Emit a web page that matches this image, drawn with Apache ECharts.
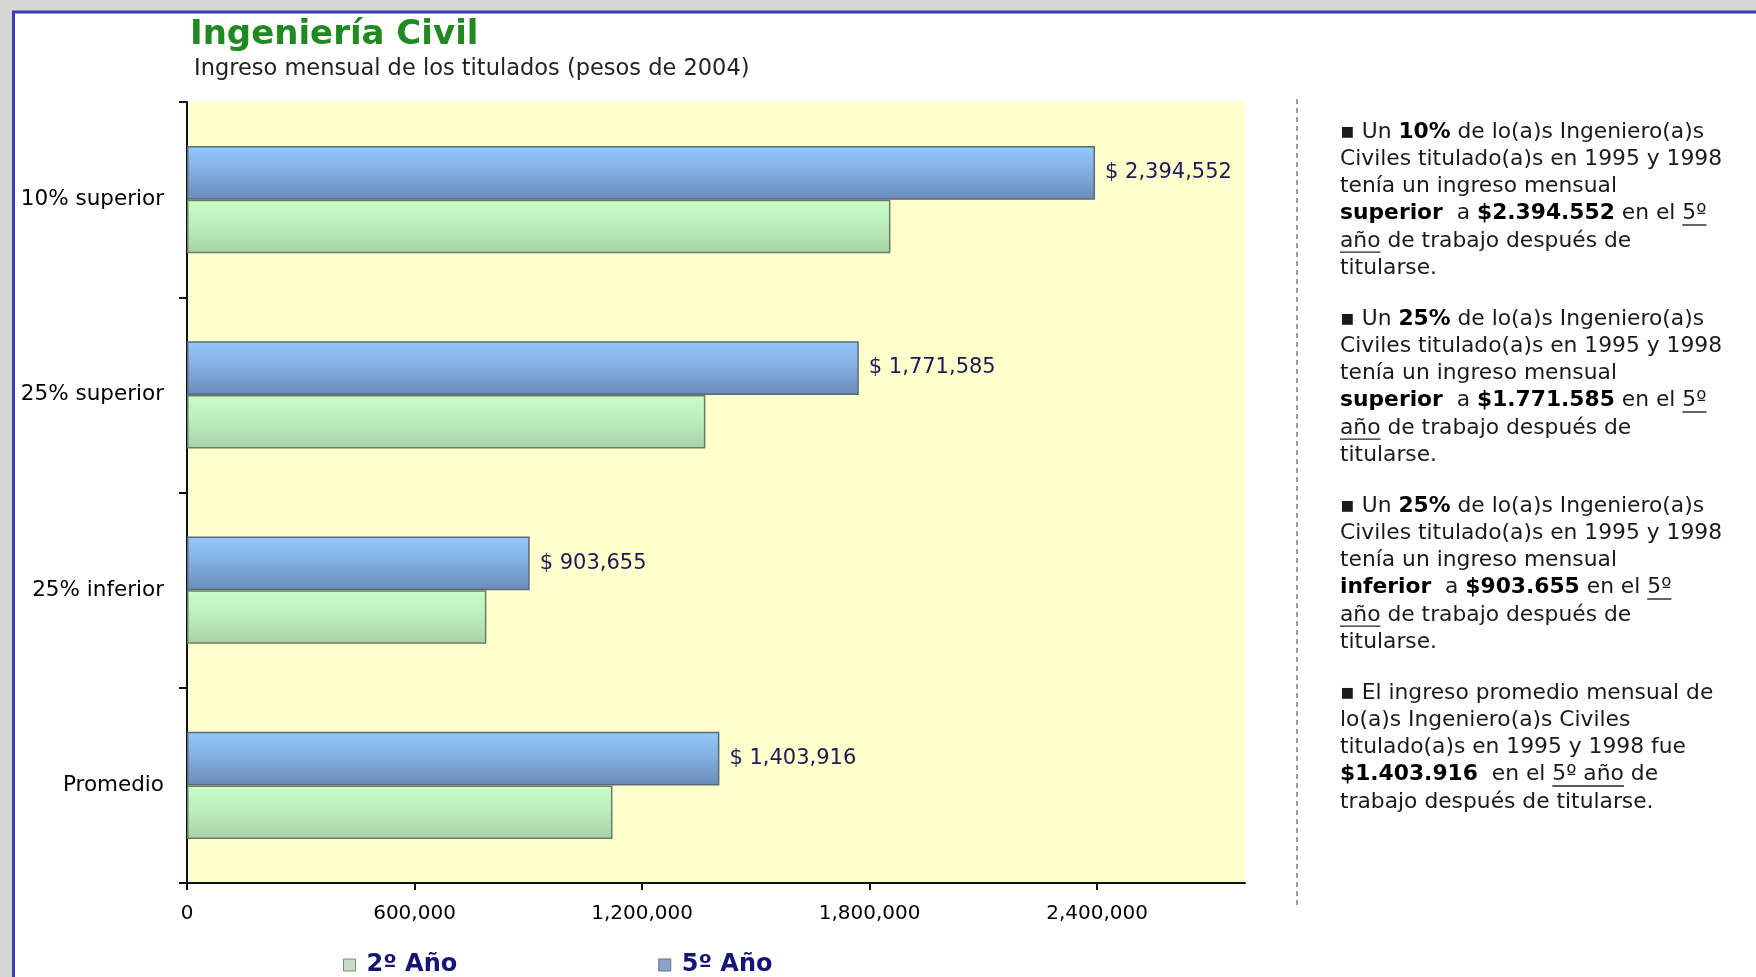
<!DOCTYPE html>
<html><head><meta charset="utf-8">
<script src="https://cdn.jsdelivr.net/npm/echarts@6/dist/echarts.min.js"></script>
<style>html,body{margin:0;padding:0;background:#d6d6d6}#c{width:1756px;height:977px}</style>
</head><body><div id="c"></div><script>
// ---------- DATA ----------
const categories = ['10% superior', '25% superior', '25% inferior', 'Promedio'];
const year2Values = [1855000, 1367000, 789500, 1122000];
const year5Values = [2394552, 1771585, 903655, 1403916];
const xTickValues = [0, 600000, 1200000, 1800000, 2400000];
const seriesNames = ['2º Año', '5º Año'];
const chartTitle = 'Ingeniería Civil';
const chartSubtitle = 'Ingreso mensual de los titulados (pesos de 2004)';
// *bold*  _underline_
const note1 = ['▪ Un *10%* de lo(a)s Ingeniero(a)s', 'Civiles titulado(a)s en 1995 y 1998', 'tenía un ingreso mensual', '*superior*  a *$2.394.552* en el _5º_', '_año_ de trabajo después de', 'titularse.'];
const note2 = ['▪ Un *25%* de lo(a)s Ingeniero(a)s', 'Civiles titulado(a)s en 1995 y 1998', 'tenía un ingreso mensual', '*superior*  a *$1.771.585* en el _5º_', '_año_ de trabajo después de', 'titularse.'];
const note3 = ['▪ Un *25%* de lo(a)s Ingeniero(a)s', 'Civiles titulado(a)s en 1995 y 1998', 'tenía un ingreso mensual', '*inferior*  a *$903.655* en el _5º_', '_año_ de trabajo después de', 'titularse.'];
const note4 = ['▪ El ingreso promedio mensual de', 'lo(a)s Ingeniero(a)s Civiles', 'titulado(a)s en 1995 y 1998 fue', '*$1.403.916*  en el _5º año_ de', 'trabajo después de titularse.'];
const notes = [note1, note2, note3, note4];

// ---------- RENDER ----------
const FONT = '"DejaVu Sans", Verdana, sans-serif';
const chart = echarts.init(document.getElementById('c'), null, {renderer: 'canvas'});

const gradBlue = new echarts.graphic.LinearGradient(0, 0, 0, 1, [
  {offset: 0, color: '#94c8fb'}, {offset: 0.45, color: '#84b0e3'}, {offset: 1, color: '#6a8bb9'}]);
const gradGreen = new echarts.graphic.LinearGradient(0, 0, 0, 1, [
  {offset: 0, color: '#cafdca'}, {offset: 0.45, color: '#bdeebd'}, {offset: 1, color: '#a7d3a7'}]);

// text panel
const NOTE_X = 1340, NOTE_Y0 = 132.5, LINE_H = 27.1, PARA_H = 187, NOTE_FS = 21.8;
const mctx = document.createElement('canvas').getContext('2d');
function measure(txt, bold) {
  mctx.font = (bold ? 'bold ' : 'normal ') + NOTE_FS + 'px ' + FONT;
  return mctx.measureText(txt).width;
}
function parseLine(line) {
  const segs = [];
  const re = /(\*[^*]+\*|_[^_]+_|[^*_]+)/g;
  let m;
  while ((m = re.exec(line)) !== null) {
    const s = m[0];
    if (s[0] === '*') segs.push({t: s.slice(1, -1), b: true, u: false});
    else if (s[0] === '_') segs.push({t: s.slice(1, -1), b: false, u: true});
    else segs.push({t: s, b: false, u: false});
  }
  return segs;
}
const graphics = [
  {type: 'rect', z: -20, shape: {x: 13.5, y: 12, width: 1800, height: 1000},
   style: {fill: '#ffffff', stroke: '#3b3bb5', lineWidth: 3}},
  {type: 'line', z: 5, shape: {x1: 1297, y1: 99, x2: 1297, y2: 909},
   style: {stroke: '#7f7f7f', lineWidth: 1.5, lineDash: [5, 4]}}
];
notes.forEach((para, pi) => {
  para.forEach((line, li) => {
    const y = NOTE_Y0 + pi * PARA_H + li * LINE_H;
    const segs = parseLine(line);
    let rich = '';
    let xoff = 0;
    segs.forEach(sg => {
      rich += '{' + (sg.b ? 'b' : 'n') + '|' + sg.t + '}';
      const w = measure(sg.t, sg.b);
      if (sg.u) {
        graphics.push({type: 'rect', z: 5, shape: {x: NOTE_X + xoff, y: y + 10.5, width: w, height: 1.4},
          style: {fill: '#222'}});
      }
      xoff += w;
    });
    graphics.push({type: 'text', z: 5, x: NOTE_X, y: y, style: {
      text: rich, verticalAlign: 'middle', align: 'left', fill: '#1a1a1a',
      rich: {
        n: {fontFamily: FONT, fontSize: NOTE_FS, fontWeight: 'normal', fill: '#1a1a1a'},
        b: {fontFamily: FONT, fontSize: NOTE_FS, fontWeight: 'bold', fill: '#000'}
      }}});
  });
});

const option = {
  backgroundColor: '#d6d6d6',
  animation: false,
  title: [
    {text: chartTitle, left: 185, top: 13, textStyle: {fontFamily: FONT, fontSize: 34, fontWeight: 'bold', color: '#1f8a1f'}},
    {text: chartSubtitle, left: 189, top: 53, textStyle: {fontFamily: FONT, fontSize: 22.5, fontWeight: 'normal', color: '#222'}}
  ],
  legend: {
    left: 338, top: 948, itemWidth: 12, itemHeight: 12, itemGap: 201, icon: 'rect',
    data: [
      {name: seriesNames[0], itemStyle: {color: '#c9dcc9', borderColor: '#7a8a7a', borderWidth: 1}},
      {name: seriesNames[1], itemStyle: {color: '#8fa3c6', borderColor: '#66708a', borderWidth: 1}}
    ],
    textStyle: {fontFamily: FONT, fontSize: 24, fontWeight: 'bold', color: '#151577', padding: [0, 0, 0, 6]}
  },
  grid: {left: 187, right: 511, top: 102, bottom: 94, show: true, backgroundColor: '#ffffcc', borderWidth: 0,
         containLabel: false, outerBoundsMode: 'none'},
  xAxis: {
    type: 'value', min: 0, max: 2790000, interval: 600000,
    axisLine: {show: true, lineStyle: {color: '#111', width: 2}},
    axisTick: {show: true, length: 7, lineStyle: {color: '#111', width: 2}, customValues: xTickValues},
    axisLabel: {customValues: xTickValues, formatter: v => Number(v).toLocaleString('en-US'),
                fontFamily: FONT, fontSize: 20, color: '#000', margin: 21},
    splitLine: {show: false}
  },
  yAxis: {
    type: 'category', inverse: true, data: categories,
    axisLine: {show: true, lineStyle: {color: '#111', width: 2}},
    axisTick: {show: true, length: 8, lineStyle: {color: '#111', width: 2}},
    axisLabel: {fontFamily: FONT, fontSize: 21.5, color: '#000', margin: 23}
  },
  series: [
    {name: seriesNames[1], type: 'bar', data: year5Values, barGap: '0%', barCategoryGap: '45%',
     itemStyle: {color: gradBlue, borderColor: '#5b6979', borderWidth: 1.5},
     label: {show: true, position: 'right', distance: 10, formatter: p => '$ ' + Number(p.value).toLocaleString('en-US'),
             fontFamily: FONT, fontSize: 21, color: '#1a1a5a'}},
    {name: seriesNames[0], type: 'bar', data: year2Values, barGap: '0%', barCategoryGap: '45%',
     itemStyle: {color: gradGreen, borderColor: '#6b7b6b', borderWidth: 1.5}}
  ],
  graphic: graphics
};
chart.setOption(option);
</script></body></html>
